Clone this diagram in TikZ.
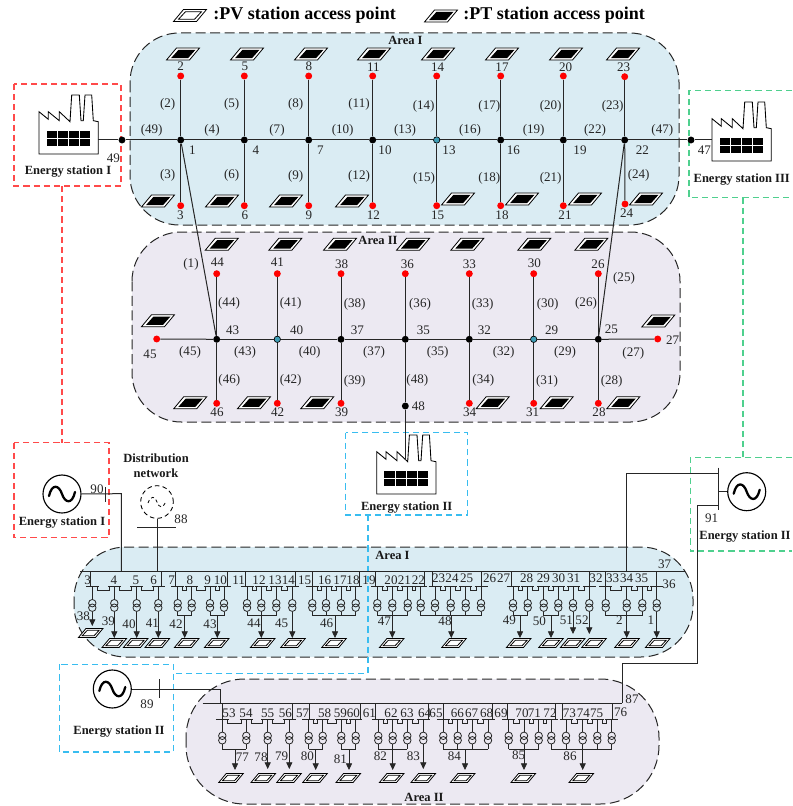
\documentclass[tikz,border=0pt]{standalone}
\usepackage{fontspec}
\setmainfont{Liberation Serif}
\usetikzlibrary{arrows.meta}
\definecolor{areaA}{HTML}{DAECF3}
\definecolor{areaB}{HTML}{ECE9F2}
\definecolor{esred}{HTML}{FF4A4A}
\definecolor{esgreen}{HTML}{4FD08E}
\definecolor{escyan}{HTML}{38BDF0}
\definecolor{teal}{HTML}{3F9DB5}
\tikzset{
  x=0.75pt,y=-0.75pt,
  lab/.style={inner sep=0pt,font=\fontsize{9.8}{11}\selectfont,text=black!85},
  blab/.style={inner sep=0pt,font=\fontsize{9.4}{11}\selectfont\bfseries,text=black!90},
  title/.style={inner sep=0pt,anchor=west,font=\fontsize{13.5}{15}\selectfont\bfseries},
  dotb/.style={circle,fill=black,inner sep=0pt,minimum size=5.2pt},
  dotr/.style={circle,fill=red,inner sep=0pt,minimum size=5.2pt},
  dott/.style={circle,fill=teal,draw=black,line width=.5pt,inner sep=0pt,minimum size=4.8pt},
  wire/.style={line width=.75pt,draw=black!85},
  thin wire/.style={line width=.6pt,draw=black!85},
  area/.style={line width=.75pt,dash pattern=on 7.5pt off 3.4pt,draw=black!85},
  station/.style={line width=.8pt,dash pattern=on 4.6pt off 3pt},
  gen/.style={circle,draw=black,line width=.85pt,inner sep=0pt,minimum size=28.5pt},
  arr/.style={thin wire,-{Triangle[length=5pt,width=4.6pt]}},
  pvicon/.pic={
    \draw[black,line width=.6pt,fill=white] (-16.5,6)--(6.5,6)--(16.5,-6)--(-6.5,-6)--cycle;
    \draw[black,line width=.6pt] (-11.5,3.8)--(4.5,3.8)--(11.5,-3.8)--(-4.5,-3.8)--cycle;
  },
  pticon/.pic={
    \draw[black,line width=.6pt,fill=white] (-16.5,6)--(6.5,6)--(16.5,-6)--(-6.5,-6)--cycle;
    \fill[black] (-12,4.2)--(5,4.2)--(12.5,-4.2)--(-4.5,-4.2)--cycle;
  },
  factory/.pic={
    \draw[black,line width=.65pt,fill=white] (0,-42.3)--(9.3,-34.7)--(9.3,-42.3)--(20.3,-33.3)--(20.3,-42.3)--(31,-32.3)--(32.7,-59)--(40.3,-59)--(42,-33.3)--(44.3,-33.3)--(46,-59)--(52.7,-59)--(54.3,-33.3)--(59.3,-32.3)--(59.3,0)--(0,0)--cycle;
    \fill[black] (7.7,-23) rectangle (51,-8.3);
    \draw[white,line width=.3pt] (7.7,-15.6)--(51,-15.6) (18.5,-23)--(18.5,-8.3) (29.3,-23)--(29.3,-8.3) (40.2,-23)--(40.2,-8.3);
  },
  tilde/.pic={
    \draw[black,line width=1.7pt,line cap=round] (-13,2) .. controls (-10,-11) and (-3,-9) .. (0,0) .. controls (3,9) and (10,11) .. (13,-2);
  },
  dtilde/.pic={
    \draw[black,line width=.6pt,dash pattern=on 2.4pt off 2pt] (-9,1) .. controls (-6,-7) and (-2,-6) .. (0,0) .. controls (2,6) and (6,7) .. (9,-1);
  },
}
% label sets given in zoom coordinates
\newcommand{\numset}[4]{\foreach \t/\x/\y [count=\i] in {#4} \node[lab] (#1\i) at ({#2+\x/3},{#3+\y/3}) {\t};}
\newcommand{\brset}[4]{\foreach \t/\x/\y [count=\i] in {#4} \node[lab] (#1\i) at ({#2+\x/3},{#3+\y/3}) {(\t)};}
% switch row: bus y, tick y, left drop, right drop, tick list
\newcommand{\ticks}[5]{%
  \draw[thin wire] (#3,#1)--(#3,#2) (#4,#1)--(#4,#2);
  \foreach \x [count=\i, remember=\x as \lx (initially 0)] in {#5}{
    \draw[thin wire] (\x-6.5,#2)--(\x+6.5,#2);
    \ifnum\i>1 \draw[thin wire] (\lx+5,#2)--(\lx+5,#2+4)--(\x-5,#2+4)--(\x-5,#2);\fi
  }}
% transformer: x, tick y, end y
\newcommand{\xfmr}[3]{%
  \draw[thin wire] (#1,#2)--(#1,#2+12.8);
  \draw[thin wire] (#1,#2+16.5) circle[radius=2.8pt] (#1,#2+21) circle[radius=2.8pt];
  \draw[thin wire] (#1,#2+24.8)--(#1,#3);}
% arrow from a transformer straight to its tip
\newcommand{\xarr}[3]{%
  \draw[thin wire] (#1,#2)--(#1,#2+12.8);
  \draw[thin wire] (#1,#2+16.5) circle[radius=2.8pt] (#1,#2+21) circle[radius=2.8pt];
  \draw[arr] (#1,#2+24.8)--(#1,#3);}
\begin{document}
\begin{tikzpicture}
\useasboundingbox (0,0) rectangle (792,806);
% areas
\path[fill=areaA,rounded corners=37pt] (130,33) rectangle (679,225);
\draw[area,rounded corners=37pt] (130,33) rectangle (679,225);
\path[fill=areaB,rounded corners=37pt] (132,232) rectangle (680,422);
\draw[area,rounded corners=37pt] (132,232) rectangle (680,422);
\path[fill=areaA,rounded corners=39pt] (74,547) rectangle (693,657);
\draw[area,rounded corners=39pt] (74,547) rectangle (693,657);
\path[fill=areaB,rounded corners=44pt] (186,679) rectangle (659,804);
\draw[area,rounded corners=44pt] (186,679) rectangle (659,804);
% legend
\pic at (190,15.5) {pvicon};
\node[title] (lgv) at (213,15) {:PV station access point};
\pic at (441,16) {pticon};
\node[title] (lgt) at (463,15) {:PT station access point};
% stations
\draw[esred,station] (14,84) rectangle (121,186);
\draw[esred,station] (14,442.7) rectangle (109,537.7);
\draw[esred,station] (62,186)--(62,442.7);
\draw[esgreen,station] (792,90.7)--(689,90.7)--(689,197.7)--(792,197.7);
\draw[esgreen,station] (792,457.7)--(690.3,457.7)--(690.3,551)--(792,551);
\draw[esgreen,station] (743,197.7)--(743,457.7);
\draw[escyan,station] (345.7,432.7) rectangle (467.3,515);
\draw[escyan,station] (59.3,664.3) rectangle (173.3,752);
\draw[escyan,station] (368,515)--(368,673.3)--(173.3,673.3);
% top network nodes
\foreach \n/\x in {1/180.7,4/244.3,7/308.7,10/372.7,16/500.7,19/563.3,22/624.7,49/122,47/691}
  \node[dotb] (b\n) at (\x,140) {};
\node[dott] (b13) at (436.7,140) {};
\foreach \n/\x in {2/180.7,5/244.3,8/308.7,11/372.7,14/436.7,17/500.7,20/563.3}
  \node[dotr] (b\n) at (\x,76) {};
\node[dotr] (b23) at (624.7,76.7) {};
\foreach \n/\x in {3/180.7,6/244.3,9/308.7,12/372.7,15/436.7,18/500.7,21/563.3}
  \node[dotr] (b\n) at (\x,205.7) {};
\node[dotr] (b24) at (625,204) {};
% lower-area nodes
\foreach \n/\x in {43/216.7,37/341,35/405.3,32/469.3,25/598.3}
  \node[dotb] (b\n) at (\x,339.3) {};
\foreach \n/\x in {40/277.3,29/533.7}
  \node[dott] (b\n) at (\x,339.3) {};
\foreach \n/\x in {45/156.7,27/657.7}
  \node[dotr] (b\n) at (\x,339) {};
\foreach \n/\x in {44/216.7,41/277.3,38/341,36/405.3,33/469.3,30/533.7,26/598.3}
  \node[dotr] (b\n) at (\x,273.7) {};
\foreach \n/\x in {46/216.7,42/277.3,39/341,34/469.3,31/533.7,28/598.3}
  \node[dotr] (b\n) at (\x,403.3) {};
\node[dotb] (b48) at (405.3,406) {};
% top connectors
\foreach \a/\b in {49/1,1/4,4/7,7/10,10/13,13/16,16/19,19/22,22/47,1/2,1/3,4/5,4/6,7/8,7/9,10/11,10/12,13/14,13/15,16/17,16/18,19/20,19/21,22/23,22/24,1/43,22/25,45/43,43/40,40/37,37/35,35/32,32/29,29/25,25/27,43/44,43/46,40/41,40/42,37/38,37/39,35/36,35/48,32/33,32/34,29/30,29/31,25/26,25/28}
  \draw[wire] (b\a)--(b\b);
% factories
\pic at (39,154) {factory};
\pic at (712,161) {factory};
\pic at (376.7,494) {factory};
\coordinate (f1) at (98,140);
\coordinate (f3) at (712,140);
\coordinate (f2) at (405.3,460);
\draw[wire] (f1)--(b49);
\draw[wire] (b47)--(f3);
\draw[wire] (b48)--(f2);
% PT icons
\foreach \x in {183,247,311,374,438,502,566,623} \pic at (\x,54) {pticon};
\foreach \x in {158,222,286,352} \pic at (\x,201) {pticon};
\foreach \x in {458,522,585,646} \pic at (\x,199) {pticon};
\foreach \x in {221.7,285.3,340,413,467.3,534.3,591.3} \pic at (\x,244.3) {pticon};
\pic at (158,320.7) {pticon};
\pic at (658.3,321) {pticon};
\foreach \x in {190.3,254,317.3,492.7,556.7,623.3} \pic at (\x,402.7) {pticon};
% top labels
\numset{ta}{0}{0}{2/542/198,5/735/198,8/927/198,11/1120/202,3/541/645,6/735/645,9/927/645,12/1120/645,1/577/452,4/768/452,7/961/452,10/1155/452,49/340/475}
\numset{tb}{400}{0}{14/113/202,17/306/202,20/497/202,23/671/202,15/113/645,18/306/645,21/495/645,24/680/640,13/147/452,16/340/452,19/540/452,22/727/452,47/913/450}
\brset{tc}{0}{0}{2/503/312,5/695/312,8/887/312,11/1077/312,3/503/525,6/695/525,9/887/530,12/1077/528,49/455/390,4/636/390,7/831/390,10/1028/390}
\brset{td}{400}{0}{14/71/320,17/268/320,20/452/320,23/638/320,15/72/535,18/268/535,21/452/535,24/716/527,13/15/390,16/210/390,19/401/390,22/585/390,47/787/390}
% area II labels
\numset{ua}{120}{230}{44/292/98,41/472/98,38/665/102,36/862/102,45/90/373,46/291/548,42/473/548,39/665/548,43/338/300,40/530/300,37/712/300}
\numset{ub}{400}{230}{33/208/102,30/403/100,26/594/102,25/634/298,27/818/332,34/209/548,31/398/548,28/597/548,35/70/300,32/253/300,29/455/302,48/55/528}
\brset{uc}{120}{230}{1/213/103,44/327/220,41/512/220,38/704/222,45/210/366,43/375/366,40/569/366,37/762/366,46/328/450,42/512/450,39/704/454}
\brset{ud}{400}{230}{36/60/222,33/248/222,30/443/222,26/558/220,25/672/145,35/113/366,32/311/366,29/495/366,27/700/370,48/52/450,34/250/450,31/441/454,28/635/454}
\node[blab] (a1) at (405.5,40) {Area I};
\node[blab] (a2) at (378,240) {Area II};
\node[blab] (a3) at (392.5,555.7) {Area I};
\node[blab] (a4) at (424,797) {Area II};
% station texts
\node[blab] (s1) at (68,172) {Energy station I};
\node[blab] (s3) at (741.7,180) {Energy station III};
\node[blab] (s2) at (406.7,507.7) {Energy station II};
\node[blab] (s4) at (62,523) {Energy station I};
\node[blab] (s5) at (119,731.7) {Energy station II};
\node[blab] (s6) at (745,537) {Energy station II};
\node[blab] (d1) at (156,458) {Distribution};
\node[blab] (d2) at (156,473) {network};
% generators
\node[gen] (g1) at (62,494) {};
\pic at (62,494) {tilde};
\node[gen] (g2) at (746.7,491.7) {};
\pic at (746.7,491.7) {tilde};
\node[gen] (g3) at (112.3,689) {};
\pic at (112.3,689) {tilde};
\node[circle,draw=black,line width=.65pt,dash pattern=on 3.4pt off 2.4pt,inner sep=0pt,minimum size=24.5pt] (dn) at (157,502) {};
\pic at (157,502) {dtilde};
\coordinate (m1) at (121.3,571);
\coordinate (m2) at (157,571);
\coordinate (m3) at (626.3,571);
\coordinate (m4) at (220.7,703.3);
\coordinate (m5) at (622.3,703.3);
\coordinate (c1) at (121.3,493.7);
\coordinate (c2) at (626.3,473.7);
\coordinate (c3) at (718,473.7);
\coordinate (c4) at (718,505);
\coordinate (c5) at (697,505);
\coordinate (c6) at (697,663);
\coordinate (c7) at (622.3,663);
\coordinate (c8) at (220.7,689);
\coordinate (c9) at (718,491.7);
\draw[wire] (g1)--(c1)--(m1);
\draw[wire] (105,487)--(105,502);
\draw[wire] (dn)--(m2);
\draw[wire] (137,527)--(176,527);
\draw[wire] (g3)--(c8)--(m4);
\draw[wire] (159.3,679)--(159.3,698);
\draw[wire] (718,467.7)--(718,510);
\draw[wire] (g2)--(c9);
\draw[wire] (c3)--(c2)--(m3);
\draw[wire] (c4)--(c5)--(c6)--(c7)--(m5);
% main bus bars
\draw[wire] (80,571)--(685,571);
\draw[wire] (202.7,703.3)--(622.3,703.3);
% lower area I
\ticks{571}{586.7}{90.7}{161}{92.3,114.3,136.7,158.3}
\ticks{571}{586.7}{175.7}{227.3}{177.7,191.7,210,224}
\ticks{571}{586.7}{245}{295}{247,261.3,276.3,292.3}
\ticks{571}{586.7}{312.3}{359}{312.3,326,341,355.7}
\ticks{571}{586.7}{375.7}{424.3}{377.3,392.3,407.7,420.7}
\ticks{571}{586.7}{432.3}{481.7}{435,450.7,465.7,481}
\ticks{571}{586.7}{511.7}{589.3}{513,527.7,543.7,558.3,573,589.3}
\ticks{571}{586.7}{605.7}{656.7}{605.7,626.7,642.3,656.7}
\xarr{92.3}{586.7}{626}
\foreach \x in {114.3,136.7,158.3,292.3,656.7} {\xarr{\x}{586.7}{638}}
\foreach \x in {573,589.3} {\xarr{\x}{586.7}{634}}
\foreach \x in {177.7,191.7,210,224,247,261.3,276.3,312.3,326,341,355.7,377.3,392.3,407.7,420.7,435,450.7,465.7,481,513,527.7,543.7,558.3,605.7,626.7,642.3} {\xfmr{\x}{586.7}{615.7}}
\draw[thin wire] (177.7,615.7)--(191.7,615.7) (210,615.7)--(224,615.7) (247,615.7)--(276.3,615.7) (312.3,615.7)--(355.7,615.7) (377.3,615.7)--(407.7,615.7) (420.7,615.7)--(481,615.7) (513,615.7)--(527.7,615.7) (543.7,615.7)--(558.3,615.7) (605.7,615.7)--(642.3,615.7);
\foreach \x in {184.7,217.3,261.3,335,392.3,451.3,520,551,626.7} {\draw[arr] (\x,615.7)--(\x,638);}
\pic[scale=.74] at (90.7,633) {pvicon};
\foreach \x in {114.3,135.7,157.3,186.7,216.7,262.7,293,334,391.7,454,518.7,551,572.7,594,627,657.7} {\pic[scale=.74] at (\x,643) {pvicon};}
\numset{la}{60}{540}{3/83/120,4/162/120,5/228/120,6/281/120,7/335/120,8/390/120,9/443/120,10/481/120,11/536/120,12/597/120,13/645/120,14/685/120,15/734/120,16/794/120,17/840/120,18/879/120,38/70/230,39/145/243,40/207/253,41/277/250,42/348/253,43/450/253,44/582/250,45/665/250,46/800/250}
\numset{lb}{360}{540}{19/27/120,20/93/120,21/133/120,22/175/120,23/236/115,24/276/115,25/320/115,26/389/115,27/431/115,28/500/115,29/550/115,30/596/115,31/641/115,32/708/115,33/758/115,34/800/115,35/845/115,36/927/133,37/914/72,47/73/245,48/255/243,49/448/240,50/538/245,51/619/240,52/666/240,2/778/240,1/873/240}
\node[lab] (l91) at (711.7,518) {91};
\node[lab] (l90) at (97,489) {90};
\node[lab] (l88) at (181,519) {88};
\node[lab] (l89) at (147,704) {89};
\node[lab] (l87) at (632,699) {87};
% lower area II
\ticks{703.3}{719.3}{222.7}{292}{222.3,246.3,267.7,289.3}
\ticks{703.3}{719.3}{309.3}{360.7}{308.7,322.7,341.3,355.7}
\ticks{703.3}{719.3}{375.7}{428.3}{378.3,392.7,407.3,423.3}
\ticks{703.3}{719.3}{443.3}{492.7}{443.3,457.7,472.3,488}
\ticks{703.3}{719.3}{507.7}{555.7}{508.7,524,538.7,551.3}
\ticks{703.3}{719.3}{562.7}{612.7}{566,582.7,597.3,611.7}
\foreach \x in {267.7,289.3,423.3} {\xarr{\x}{719.3}{769}}
\foreach \x in {222.3,246.3,308.7,322.7,341.3,355.7,378.3,392.7,407.3,443.3,457.7,472.3,488,508.7,524,538.7,551.3,566,582.7,597.3,611.7} {\xfmr{\x}{719.3}{749}}
\draw[thin wire] (222.3,749)--(246.3,749) (308.7,749)--(322.7,749) (341.3,749)--(355.7,749) (378.3,749)--(407.3,749) (443.3,749)--(488,749) (508.7,749)--(538.7,749) (551.3,749)--(611.7,749);
\foreach \x in {235,315.7,349,392.7,465,524,582.7} {\draw[arr] (\x,749)--(\x,770);}
\foreach \x in {231,263.3,289,315,348.3,391.7,423.3,462.7,523.3,581.3} {\pic[scale=.74] at (\x,778) {pvicon};}
\numset{ma}{180}{680}{53/147/100,54/198/100,55/263/100,56/316/100,57/368/100,58/434/100,59/481/100,60/520/100,61/568/100,62/633/100,63/681/100,77/187/233,78/243/231,79/305/229,80/382/230,81/481/238,82/601/228,83/700/228}
\numset{mb}{420}{680}{64/14/100,65/48/100,66/112/100,67/155/100,68/200/100,69/243/100,70/306/100,71/343/100,72/390/100,73/448/100,74/490/100,75/530/100,76/602/97,84/103/230,85/296/225,86/450/228}
\end{tikzpicture}
\end{document}
